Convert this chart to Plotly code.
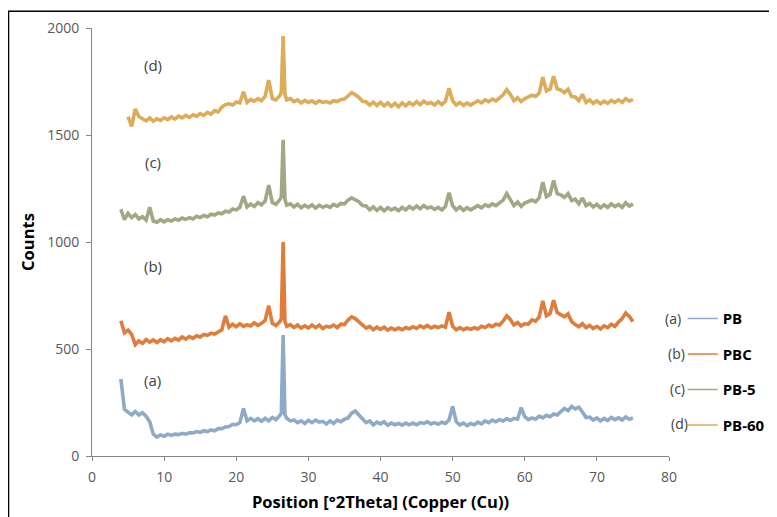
import plotly.graph_objects as go

# 2-theta positions (degrees)
two_theta = [
    4.0, 4.5, 5.0, 5.5, 6.0, 6.5, 7.0, 7.5, 8.0, 8.5,
    9.0, 9.5, 10.0, 10.5, 11.0, 11.5, 12.0, 12.5, 13.0, 13.5,
    14.0, 14.5, 15.0, 15.5, 16.0, 16.5, 17.0, 17.5, 18.0, 18.5,
    19.0, 19.5, 20.0, 20.5, 21.0, 21.5, 22.0, 22.5, 23.0, 23.5,
    24.0, 24.5, 25.0, 25.5, 26.0, 26.25, 26.5, 26.75, 27.0, 27.5,
    28.0, 28.5, 29.0, 29.5, 30.0, 30.5, 31.0, 31.5, 32.0, 32.5,
    33.0, 33.5, 34.0, 34.5, 35.0, 35.5, 36.0, 36.5, 37.0, 37.5,
    38.0, 38.5, 39.0, 39.5, 40.0, 40.5, 41.0, 41.5, 42.0, 42.5,
    43.0, 43.5, 44.0, 44.5, 45.0, 45.5, 46.0, 46.5, 47.0, 47.5,
    48.0, 48.5, 49.0, 49.5, 50.0, 50.5, 51.0, 51.5, 52.0, 52.5,
    53.0, 53.5, 54.0, 54.5, 55.0, 55.5, 56.0, 56.5, 57.0, 57.5,
    58.0, 58.5, 59.0, 59.5, 60.0, 60.5, 61.0, 61.5, 62.0, 62.5,
    63.0, 63.5, 64.0, 64.5, 65.0, 65.5, 66.0, 66.5, 67.0, 67.5,
    68.0, 68.5, 69.0, 69.5, 70.0, 70.5, 71.0, 71.5, 72.0, 72.5,
    73.0, 73.5, 74.0, 74.5, 75.0,
]

counts_pb = [
    360, 218, 205, 192, 208, 192, 202, 186, 160, 102,
    88, 98, 92, 102, 96, 102, 100, 106, 102, 108,
    108, 114, 110, 118, 114, 122, 118, 128, 128, 136,
    138, 148, 146, 156, 222, 164, 176, 164, 174, 162,
    176, 164, 180, 170, 188, 200, 565, 192, 176, 164,
    168, 156, 164, 152, 166, 156, 168, 158, 162, 150,
    164, 152, 168, 160, 172, 178, 200, 210, 192, 174,
    156, 164, 146, 158, 150, 160, 144, 154, 146, 152,
    144, 154, 146, 154, 146, 156, 152, 160, 150, 156,
    148, 158, 152, 168, 232, 160, 146, 154, 142, 152,
    146, 158, 150, 164, 156, 168, 160, 170, 164, 174,
    166, 176, 172, 226, 184, 170, 178, 172, 186, 178,
    190, 184, 196, 192, 210, 222, 212, 232, 220, 228,
    206, 180, 182, 168, 178, 164, 176, 166, 180, 170,
    178, 168, 182, 172, 178,
]

counts_pbc = [
    632, 576, 588, 568, 520, 538, 526, 544, 532, 542,
    530, 544, 534, 548, 538, 550, 542, 556, 546, 558,
    550, 562, 556, 568, 564, 574, 570, 580, 590, 655,
    602, 616, 604, 618, 606, 614, 608, 622, 610, 620,
    634, 702, 620, 610, 626, 640, 1000, 630, 606, 614,
    600, 612, 598, 608, 598, 612, 600, 612, 596, 606,
    602, 612, 600, 616, 614, 636, 650, 642, 626, 610,
    598, 606, 590, 602, 592, 602, 588, 598, 590, 598,
    590, 600, 594, 604, 596, 608, 600, 610, 598, 606,
    600, 608, 602, 672, 606, 590, 600, 590, 598, 592,
    600, 594, 606, 600, 612, 604, 616, 612, 630, 655,
    638, 612, 624, 608, 618, 616, 636, 630, 650, 725,
    656, 666, 728, 670, 662, 650, 664, 628, 614, 604,
    618, 600, 610, 596, 606, 594, 608, 600, 616, 606,
    626, 642, 668, 652, 628,
]

counts_pb5 = [
    1152, 1104, 1134, 1114, 1128, 1108, 1118, 1102, 1162, 1098,
    1092, 1104, 1094, 1104, 1098, 1108, 1102, 1112, 1106, 1114,
    1108, 1120, 1114, 1124, 1118, 1130, 1126, 1136, 1132, 1144,
    1140, 1154, 1150, 1162, 1214, 1164, 1178, 1166, 1184, 1174,
    1190, 1266, 1184, 1176, 1196, 1210, 1478, 1200, 1172, 1178,
    1164, 1176, 1160, 1172, 1162, 1174, 1158, 1172, 1162, 1170,
    1162, 1176, 1168, 1180, 1178, 1196, 1206, 1198, 1188, 1170,
    1168, 1150, 1164, 1148, 1162, 1146, 1160, 1150, 1158, 1146,
    1162, 1150, 1166, 1154, 1168, 1156, 1170, 1158, 1164, 1152,
    1162, 1150, 1166, 1230, 1170, 1150, 1164, 1148, 1160, 1150,
    1160, 1170, 1160, 1174, 1166, 1178, 1170, 1184, 1196, 1226,
    1200, 1170, 1186, 1166, 1182, 1190, 1196, 1188, 1206, 1280,
    1212, 1222, 1288, 1226, 1220, 1208, 1226, 1194, 1200, 1178,
    1206, 1170, 1180, 1164, 1176, 1160, 1174, 1162, 1178, 1166,
    1176, 1162, 1184, 1168, 1178,
]

counts_pb60 = [
    None, None, 1586, 1540, 1622, 1586, 1576, 1566, 1580, 1564,
    1576, 1568, 1580, 1572, 1584, 1574, 1588, 1580, 1592, 1582,
    1594, 1588, 1600, 1592, 1606, 1598, 1614, 1608, 1630, 1642,
    1646, 1640, 1654, 1650, 1702, 1652, 1666, 1658, 1670, 1660,
    1680, 1756, 1670, 1664, 1682, 1700, 1962, 1690, 1664, 1670,
    1656, 1664, 1650, 1662, 1652, 1660, 1648, 1660, 1652, 1656,
    1650, 1660, 1656, 1666, 1668, 1686, 1698, 1688, 1676, 1658,
    1656, 1640, 1654, 1638, 1652, 1636, 1650, 1634, 1648, 1632,
    1650, 1636, 1652, 1640, 1656, 1642, 1658, 1646, 1652, 1640,
    1656, 1642, 1658, 1718, 1660, 1640, 1652, 1638, 1650, 1640,
    1648, 1660, 1650, 1664, 1656, 1668, 1660, 1674, 1688, 1712,
    1690, 1660, 1674, 1656, 1670, 1678, 1686, 1680, 1696, 1770,
    1706, 1714, 1775, 1716, 1710, 1698, 1714, 1680, 1678, 1660,
    1690, 1652, 1664, 1648, 1660, 1646, 1658, 1648, 1662, 1652,
    1664, 1652, 1670, 1658, 1666,
]

series_names = ["PB", "PBC", "PB-5", "PB-60"]
series_tags = ["(a)", "(b)", "(c)", "(d)"]
series_counts = [counts_pb, counts_pbc, counts_pb5, counts_pb60]
series_colors = ["#8faac6", "#df7d3c", "#a2a883", "#dbad58"]
tag_x = [8.4, 8.4, 8.4, 8.4]
tag_y = [355, 890, 1375, 1828]

x_ticks = [0, 10, 20, 30, 40, 50, 60, 70, 80]
y_ticks = [0, 500, 1000, 1500, 2000]

FONT = "Open Sans"
fig = go.Figure()

for name, ys, col in zip(series_names, series_counts, series_colors):
    fig.add_trace(go.Scatter(
        x=two_theta, y=ys, mode="lines", name=name,
        line=dict(color=col, width=3.6), showlegend=False,
    ))

for name, col in zip(series_names, series_colors):
    fig.add_trace(go.Scatter(
        x=[None], y=[None], mode="lines", name="<b>" + name + "</b>",
        line=dict(color=col, width=1.5), showlegend=True, legendgroup=name,
    ))

for tag, tx, ty in zip(series_tags, tag_x, tag_y):
    fig.add_annotation(x=tx, y=ty, text=tag, showarrow=False,
                       font=dict(family=FONT, size=15, color="#404040"))

leg_tag_x = [1.0237, 1.0307, 1.0307, 1.0358]
leg_tag_y = [0.322, 0.240, 0.158, 0.076]
for tag, lx, ly in zip(series_tags, leg_tag_x, leg_tag_y):
    fig.add_annotation(xref="paper", yref="paper", x=lx, y=ly, text=tag,
                       showarrow=False, xanchor="right", yanchor="middle",
                       font=dict(family=FONT, size=14, color="#404040"))

fig.add_shape(type="rect", xref="paper", yref="paper",
              x0=-0.1447, x1=1.3, y0=-0.3, y1=1.039,
              line=dict(color="black", width=1.5), fillcolor="rgba(0,0,0,0)")

fig.update_layout(
    width=769, height=509,
    margin=dict(l=84, r=108, t=20, b=61, autoexpand=False),
    plot_bgcolor="white", paper_bgcolor="white",
    font=dict(family=FONT, color="#595959", size=14),
    legend=dict(x=1.0237, y=0.359, xanchor="left", yanchor="top",
                font=dict(family=FONT, size=15, color="#000000"),
                tracegroupgap=13, itemwidth=30,
                bgcolor="rgba(0,0,0,0)"),
    xaxis=dict(
        range=[0, 80], tickvals=x_ticks, ticks="outside", ticklen=4,
        tickcolor="#868686", showline=True, linecolor="#868686", linewidth=1,
        showgrid=False, zeroline=False, automargin=False, ticklabelstandoff=4,
        tickfont=dict(family=FONT, size=14, color="#595959"),
        title=dict(text="<b>Position [°2Theta] (Copper (Cu))</b>",
                   font=dict(family=FONT, size=16.5, color="#000000"), standoff=11),
    ),
    yaxis=dict(
        range=[0, 2000], tickvals=y_ticks, ticks="outside", ticklen=5,
        tickcolor="#868686", showline=True, linecolor="#868686", linewidth=1,
        showgrid=False, zeroline=False, automargin=False, ticklabelstandoff=4,
        tickfont=dict(family=FONT, size=14, color="#595959"),
        title=dict(text="<b>Counts</b>",
                   font=dict(family=FONT, size=16.5, color="#000000"), standoff=8),
    ),
)

fig.write_html("out.html")
